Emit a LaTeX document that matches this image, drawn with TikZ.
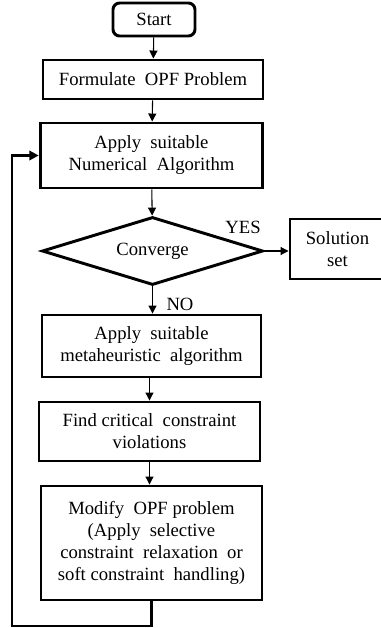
\documentclass[tikz,border=0pt]{standalone}
\usepackage{fontspec}
\setmainfont{Liberation Serif}
\usetikzlibrary{shapes.geometric, arrows.meta, positioning}

\begin{document}
\begin{tikzpicture}[x=0.75pt, y=-0.75pt,
    box/.style={draw, line width=2.2pt, fill=white, align=center, inner sep=0pt,
      font=\fontsize{14pt}{16.5pt}\selectfont},
    arr/.style={-{Triangle[length=6pt,width=6pt]}, line width=0.8pt},
    lbl/.style={font=\fontsize{14pt}{16.5pt}\selectfont, inner sep=0pt}]
  \useasboundingbox (0,0) rectangle (380,628);

  % Main column
  \node[box, rounded corners=5pt, minimum width=61.5pt, minimum height=24.75pt] (start) at (154,19.5) {Start};
  \node[box, minimum width=165pt, minimum height=29.25pt] (formulate) at (153,79.5) {Formulate\ \ OPF Problem};
  \node[box, minimum width=167pt, minimum height=48.75pt] (numerical) at (151.5,155.5) {Apply\ \ suitable\\Numerical\ \ Algorithm};
  \draw[arr] (start) -- (formulate);
  \draw[arr] (formulate) -- (numerical);

  % Decision
  \node[box, diamond, aspect=3.2, minimum width=165.75pt, minimum height=51pt] (converge) at (152.5,251) {Converge};
  \draw[arr] (numerical) -- (converge);

  \node[box, minimum width=71.25pt, minimum height=45pt] (solution) at (337.5,249) {Solution\\set};
  \draw[arr] (converge.east) -- (converge.east -| solution.west);
  \node[lbl] (yes) at (243,227) {YES};

  \node[box, minimum width=164.25pt, minimum height=46.5pt] (meta) at (151.5,346) {Apply\ \ suitable\\metaheuristic\ \ algorithm};
  \draw[arr] (converge) -- (converge.south |- meta.north);
  \node[lbl] (no) at (180,304) {NO};

  \node[box, minimum width=165.75pt, minimum height=44.25pt] (find) at (149.5,431.5) {Find critical\ \ constraint\\violations};
  \draw[arr] (meta.south -| find) -- (find);

  \node[box, minimum width=165.75pt, minimum height=85.5pt] (modify) at (151.5,543) {Modify\ \ OPF problem\\(Apply\ \ selective\\constraint\ \ relaxation\ \ or\\soft constraint\ \ handling)};
  \draw[arr] (find) -- (find.south |- modify.north);

  % Feedback loop
  \coordinate (back) at (12,626);
  \draw[line width=2pt, -{Triangle[length=7pt,width=7pt]}] (modify.south) |- (back) |- (numerical.west);
\end{tikzpicture}
\end{document}
